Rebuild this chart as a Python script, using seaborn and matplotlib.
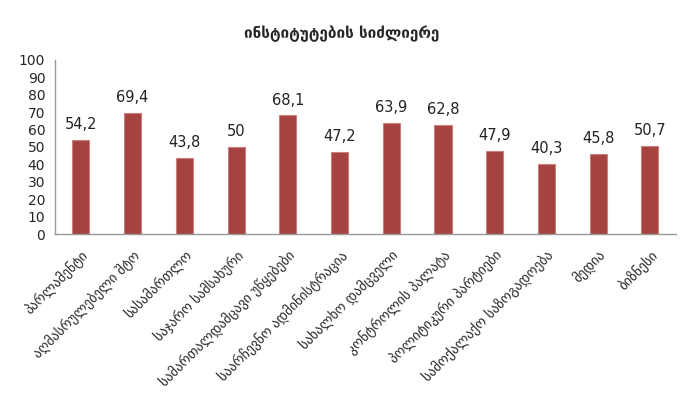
import pandas as pd
import matplotlib
matplotlib.use('Agg')
import matplotlib.pyplot as plt
import seaborn as sns

categories = ['პარლამენტი', 'აღმასრულებელი შტო', 'სასამართლო', 'საჯარო სამსახური',
              'სამართალდამცავი უწყებები', 'საარჩევნო ადმინისტრაცია', 'სახალხო დამცველი',
              'კონტროლის პალატა', 'პოლიტიკური პარტიები', 'სამოქალაქო საზოგადოება',
              'მედია', 'ბიზნესი']
values = [54.2, 69.4, 43.8, 50, 68.1, 47.2, 63.9, 62.8, 47.9, 40.3, 45.8, 50.7]
value_labels = ['54,2', '69,4', '43,8', '50', '68,1', '47,2', '63,9', '62,8', '47,9', '40,3', '45,8', '50,7']

df = pd.DataFrame({'institution': categories, 'score': values})

sns.set_style('white')
plt.rcParams['font.family'] = ['DejaVu Sans']

fig = plt.figure(figsize=(6.83, 4.07), dpi=100)
ax = fig.add_axes([0.0805, 0.425, 0.909, 0.428])

sns.barplot(data=df, x='institution', y='score', color='#A6423F', width=0.33,
            edgecolor='#C98080', linewidth=0.8, saturation=1, ax=ax)

for i, (v, lab) in enumerate(zip(values, value_labels)):
    ax.text(i, v + 4.5, lab, ha='center', va='bottom', fontsize=10.5, color='#222222')

ax.set_ylim(0, 100)
ax.set_xlim(-0.5, len(categories) - 0.5)
ax.set_yticks(range(0, 101, 10))
ax.set_xlabel('')
ax.set_ylabel('')
ax.tick_params(axis='y', length=4, color='#999999', labelsize=10, direction='out', pad=3)
ax.tick_params(axis='x', length=0, labelsize=9.8, pad=10)
plt.setp(ax.get_xticklabels(), rotation=45, ha='right', rotation_mode='anchor')
for s in ['top', 'right']:
    ax.spines[s].set_visible(False)
for s in ['left', 'bottom']:
    ax.spines[s].set_color('#999999')
    ax.spines[s].set_linewidth(1)

fig.text(0.5, 0.918, 'ინსტიტუტების სიძლიერე', ha='center', va='center',
         fontsize=11, fontweight='bold')

fig.savefig('out.png', dpi=100)
